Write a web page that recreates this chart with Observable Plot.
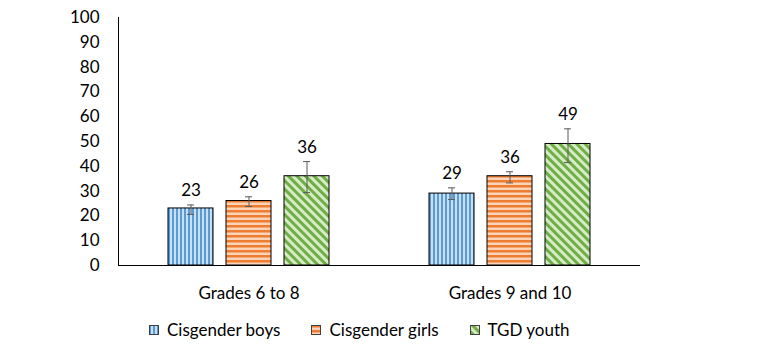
<!DOCTYPE html>
<html><head><meta charset="utf-8">
<script src="https://cdn.jsdelivr.net/npm/d3@7"></script>
<script src="https://cdn.jsdelivr.net/npm/@observablehq/plot@0.6"></script>
<style>
body{margin:0;background:#fff;font-family:Lato,sans-serif;}
#wrap{position:relative;width:761px;height:362px;overflow:hidden;}
#legend{position:absolute;top:319px;left:149px;display:flex;align-items:center;font-size:17px;line-height:22px;color:#000;}
#legend .item{display:flex;align-items:center;margin-right:31px;}
#legend svg{margin-right:8px;}
</style></head><body>
<div id="wrap"><div id="chart"></div><div id="legend"></div></div>
<script>
const groups = ["Grades 6 to 8", "Grades 9 and 10"];
const series = ["Cisgender boys", "Cisgender girls", "TGD youth"];
// values per group, in series order
const values = [[23, 26, 36], [29, 36, 49]];
const lows   = [[20.6, 23.8, 29.4], [26.6, 33.3, 41.5]];
const highs  = [[24.4, 27.7, 41.9], [31.3, 37.8, 55.1]];
const yTicks = [0, 10, 20, 30, 40, 50, 60, 70, 80, 90, 100];
const fills = ["url(#pBoys)", "url(#pGirls)", "url(#pTgd)"];

const rows = groups.flatMap((g, gi) => series.map((s, si) => ({
  group: g, series: s, value: values[gi][si], lo: lows[gi][si], hi: highs[gi][si]
})));

const chart = Plot.plot({
  width: 761, height: 310,
  marginLeft: 118, marginRight: 121, marginTop: 17, marginBottom: 45,
  style: {fontFamily: "Lato, sans-serif", fontSize: "17px", color: "#000", background: "#fff"},
  fx: {domain: groups, padding: 0, label: null},
  x: {domain: series, paddingInner: 0.22, paddingOuter: 0.84},
  y: {domain: [0, 100]},
  color: {domain: series, range: fills},
  marks: [
    Plot.axisY({ticks: yTicks, tickSize: 0, tickPadding: 19, label: null}),
    Plot.frame({anchor: "left", facetAnchor: "left", stroke: "#000"}),
    Plot.axisFx({anchor: "bottom", tickSize: 0, tickPadding: 21, label: null}),
    Plot.axisX({ticks: [], label: null, tickSize: 0}),
    Plot.barY(rows, {fx: "group", x: "series", y: "value", fill: "series", stroke: "#000", strokeWidth: 1}),
    Plot.ruleY([0], {stroke: "#000"}),
    Plot.ruleX(rows, {fx: "group", x: "series", y1: "lo", y2: "hi", stroke: "#595959", strokeWidth: 1}),
    Plot.tickY(rows, {fx: "group", x: "series", y: "lo", stroke: "#595959", insetLeft: 19, insetRight: 19}),
    Plot.tickY(rows, {fx: "group", x: "series", y: "hi", stroke: "#595959", insetLeft: 19, insetRight: 19}),
    Plot.text(rows, {fx: "group", x: "series", y: "hi", text: d => String(d.value), dy: -14, fill: "#000"})
  ]
});

const defs = d3.select(chart).insert("defs", ":first-child");
function stripes(id, light, dark, w, h, dw, dh, transform) {
  const p = defs.append("pattern").attr("id", id).attr("patternUnits", "userSpaceOnUse")
    .attr("width", w).attr("height", h);
  if (transform) p.attr("patternTransform", transform);
  p.append("rect").attr("width", w).attr("height", h).attr("fill", light);
  p.append("rect").attr("width", dw).attr("height", dh).attr("fill", dark);
}
stripes("pBoys", "#C9DFF4", "#5B9BD5", 4, 4, 2, 4);
stripes("pGirls", "#FAD3B8", "#ED7D31", 5, 5, 5, 2.5);
stripes("pTgd", "#D6ECC6", "#70AD47", 6, 6, 3, 6, "rotate(-45)");

document.getElementById("chart").appendChild(chart);

const legend = d3.select("#legend");
series.forEach((s, i) => {
  const it = legend.append("div").attr("class", "item");
  const sv = it.append("svg").attr("width", 10).attr("height", 10);
  sv.append("rect").attr("x", 0.5).attr("y", 0.5).attr("width", 9).attr("height", 9)
    .attr("fill", fills[i]).attr("stroke", "#404040").attr("stroke-width", 1);
  it.append("span").text(s);
});
</script>
</body></html>
